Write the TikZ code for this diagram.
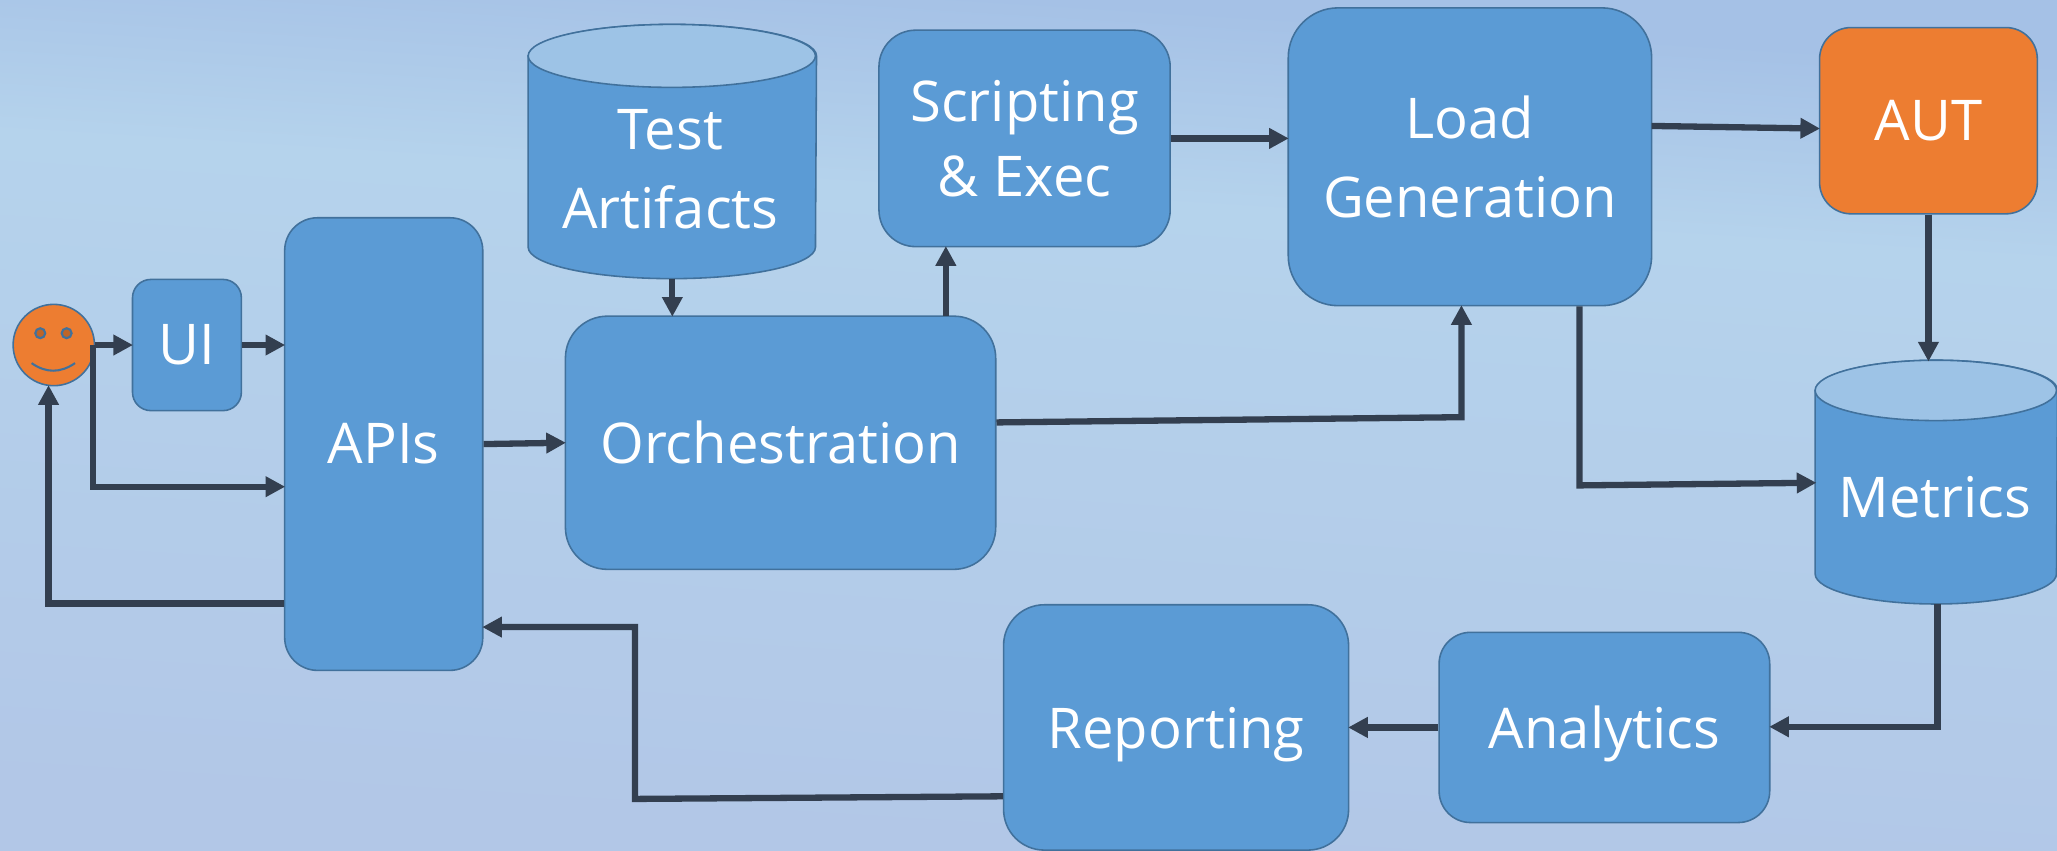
\documentclass[tikz,border=0pt]{standalone}
\usepackage{fontspec}
\setmainfont{Open Sans}
\usetikzlibrary{arrows.meta,calc}
\definecolor{bgtop}{HTML}{A5C1E6}
\definecolor{bgmid}{HTML}{B5D3EC}
\definecolor{bgbot}{HTML}{B2C7E7}
\definecolor{boxfill}{HTML}{5B9BD5}
\definecolor{boxline}{HTML}{41719C}
\definecolor{lidfill}{HTML}{9DC3E6}
\definecolor{orangefill}{HTML}{ED7D31}
\definecolor{eyefill}{HTML}{BE6528}
\definecolor{conncol}{HTML}{333F50}
\pgfdeclareverticalshading{bgshade}{100bp}{
 color(0bp)=(bgbot); color(40.45bp)=(bgbot); color(55.1bp)=(bgmid); color(59.53bp)=(bgtop); color(100bp)=(bgtop)}
\tikzset{
 x=0.5pt,y=-0.5pt,
 box/.style={draw=boxline,line width=0.6pt,fill=boxfill,text=white,inner sep=0pt,align=center,
   font=\fontsize{21.4}{30}\selectfont},
 orangebox/.style={box,fill=orangefill},
 cylbox/.style={inner sep=0pt},
 cyltext/.style={text=white,align=center,inner sep=0pt,font=\fontsize{21.4}{30}\selectfont},
 cylbody/.style={draw=boxline,line width=0.6pt,fill=boxfill},
 cyllid/.style={draw=boxline,line width=0.6pt,fill=lidfill},
 conn/.style={draw=conncol,line width=2.4pt,shorten >=-0.5pt,-{Triangle[length=7.5pt,width=7.5pt]}},
}
\newcommand{\cylshape}[2]{% node name, half lid height
 \path[cylbody] ([yshift=-#2]#1.north west) -- ([yshift=#2]#1.south west)
   arc[start angle=180,end angle=360,x radius=0.5*\cylw,y radius=#2]
   -- ([yshift=-#2]#1.north east)
   arc[start angle=0,end angle=180,x radius=0.5*\cylw,y radius=#2] -- cycle;
 \path[cyllid] ([yshift=-#2]#1.north west)
   arc[start angle=180,end angle=-180,x radius=0.5*\cylw,y radius=#2] -- cycle;
}
\begin{document}
\begin{tikzpicture}
\useasboundingbox (0,0) rectangle (1568,648);
\begin{scope}
 \clip (0,0) rectangle (1568,648);
 \fill[shading=bgshade,transform canvas={rotate around={-3.6:(784,324)}}] (-66,-526) rectangle (1634,1174);
\end{scope}

% boxes
\node[box,rounded corners=7pt,minimum width=41.5pt,minimum height=50pt] (ui) at (142.5,263) {UI};
\node[box,rounded corners=12.5pt,minimum width=75.5pt,minimum height=172.5pt] (apis) at (292.5,338.5) {APIs};
\node[box,rounded corners=16pt,minimum width=164pt,minimum height=96.5pt] (orch) at (595,337.5) {Orchestration};
\node[box,rounded corners=14pt,minimum width=111pt,minimum height=82.5pt] (script) at (781,105.5) {Scripting\\[-1.5pt]\& Exec};
\node[box,rounded corners=19pt,minimum width=138.5pt,minimum height=113.5pt] (load) at (1120.5,119.5) {Load\\Generation};
\node[orangebox,rounded corners=12pt,minimum width=83pt,minimum height=71pt] (aut) at (1470,92) {AUT};
\node[box,text depth=0pt,rounded corners=15.5pt,minimum width=131.5pt,minimum height=93.5pt] (report) at (896.5,554.5) {Reporting};
\node[box,text depth=0pt,rounded corners=12pt,minimum width=126pt,minimum height=72.5pt] (analytics) at (1223,554.5) {Analytics};

% cylinders
\def\cylw{109.5pt}
\node[cylbox,minimum width=109.5pt,minimum height=96.5pt] (test) at (512.5,115.5) {};
\cylshape{test}{12pt}
\node[cyltext] (testlabel) at (511,129) {Test\\Artifacts};
\def\cylw{92pt}
\node[cylbox,minimum width=92pt,minimum height=92.5pt] (metrics) at (1476,367.5) {};
\cylshape{metrics}{11.5pt}
\node[cyltext] (metricslabel) at (1475,379) {Metrics};

% smiley
\node[circle,draw=boxline,line width=0.6pt,fill=orangefill,minimum size=31pt,inner sep=0pt] (smile) at (41,263) {};
\fill[eyefill,draw=boxline,line width=0.8pt] (30.7,254) circle[radius=1.9pt];
\fill[eyefill,draw=boxline,line width=0.8pt] (50.8,254) circle[radius=1.9pt];
\draw[boxline,line width=0.8pt] (24.1,276.8) .. controls (35,284.5) and (46,284.5) .. (57.2,276.8);

% connector bend points
\coordinate (b1) at (71,371);
\coordinate (b2) at (37,460);
\coordinate (b3) at (721,241);
\coordinate (b4) at (1114,318);
\coordinate (b5) at (1204,370);
\coordinate (b6) at (1477,554);
\coordinate (b7) at (484,609);
\coordinate (b8) at (484,478);
\coordinate (b9) at (1259,96);

% connectors
\draw[conn] (smile.east) -- (ui.west);
\draw[conn] (ui.east) -- (ui.east -| apis.west);
\draw[conn] (b1 |- smile.east) -- (b1) -- (b1 -| apis.west);
\draw[conn] (b2 -| apis.west) -- (b2) -- (b2 |- smile.south);
\draw[conn] (apis.east) -- (orch.west);
\draw[conn] (test.south) -- (test.south |- orch.north);
\draw[conn] (b3) -- (b3 |- script.south);
\draw[conn] (script.east) -- (script.east -| load.west);
\draw[conn] ([yshift=-2pt]b4 -| orch.east) -- (b4) -- (b4 |- load.south);
\draw[conn] (b9) -- ([yshift=-1pt]b9 -| aut.west);
\draw[conn] (aut.south) -- (aut.south |- metrics.north);
\draw[conn] (b5 |- load.south) -- (b5) -- ([yshift=1pt]b5 -| metrics.west);
\draw[conn] (b6 |- metrics.south) -- (b6) -- (b6 -| analytics.east);
\draw[conn] (analytics.west) -- (report.east);
\draw[conn] ([yshift=1pt]b7 -| report.west) -- (b7) -- (b8) -- (b8 -| apis.east);
\end{tikzpicture}
\end{document}
